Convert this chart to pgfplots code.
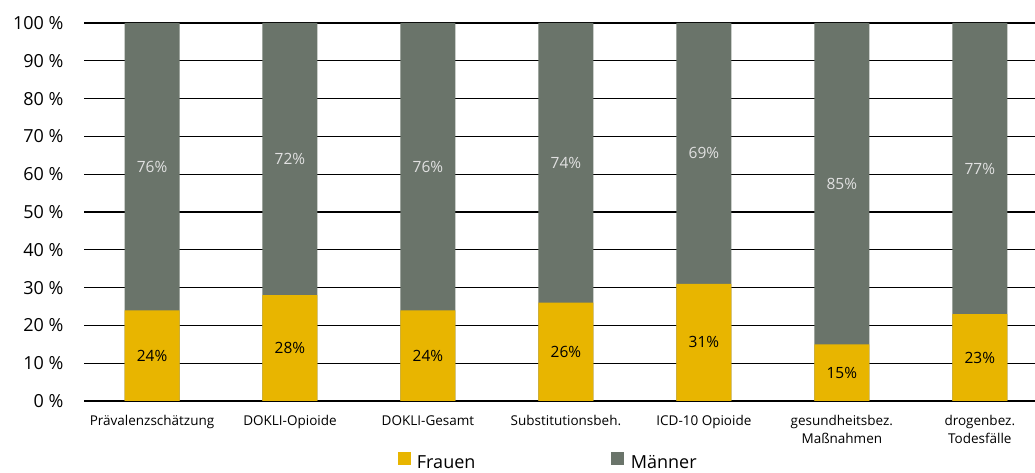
\documentclass[border=0pt]{standalone}
\usepackage{fontspec}
\setmainfont{Open Sans}
\usepackage{pgfplots}
\pgfplotsset{compat=1.18}
\definecolor{frauen}{RGB}{232,181,0}
\definecolor{maenner}{RGB}{106,116,106}
\definecolor{mlabel}{RGB}{225,225,225}
\begin{document}
\begin{tikzpicture}[x=1pt,y=1pt]
\path[use as bounding box] (0,0) rectangle (1035,473);
\begin{axis}[
  at={(84pt,72pt)}, anchor=south west,
  scale only axis, width=951pt, height=378pt,
  xmin=-0.493, xmax=6.4, ymin=0, ymax=100,
  clip=false,
  xtick={0,...,6},
  xticklabels={Prävalenzschätzung, DOKLI-Opioide, DOKLI-Gesamt, Substitutionsbeh., ICD-10 Opioide, {gesundheitsbez.\\Maßnahmen}, {drogenbez.\\Todesfälle}},
  xticklabel style={align=center, font=\fontsize{13.5}{18}\selectfont, yshift=-11pt},
  ytick={0,10,...,100},
  yticklabels={0 \%,10 \%,20 \%,30 \%,40 \%,50 \%,60 \%,70 \%,80 \%,90 \%,100 \%},
  yticklabel style={font=\fontsize{18}{20}\selectfont, xshift=-17pt},
  ymajorgrids, major grid style={black, line width=1.3pt},
  axis line style={draw=none}, major tick length=0pt,
  legend style={at={(0.488,-0.162)}, anchor=center, draw=none, fill=none,
    legend columns=2, font=\fontsize{18}{20}\selectfont,
    /tikz/every even column/.append style={column sep=134pt}},
  legend cell align=left,
]
\addlegendimage{legend image code/.code={\fill[frauen] (0pt,-1pt) rectangle (12pt,11pt); \path (17pt,0pt);}}
\addlegendentry{Frauen}
\addlegendimage{legend image code/.code={\fill[maenner] (0pt,-1pt) rectangle (12pt,11pt); \path (17pt,0pt);}}
\addlegendentry{Männer}
% Männer (stacked top = Frauen + Männer)
\addplot[ybar, bar width=55pt, bar shift=0pt, fill=maenner, draw=none, forget plot]
  coordinates {(0,100) (1,100) (2,100) (3,100) (4,100) (5,100) (6,100)};
% Frauen
\addplot[ybar, bar width=55pt, bar shift=0pt, fill=frauen, draw=none, forget plot]
  coordinates {(0,24) (1,28) (2,24) (3,26) (4,31) (5,15) (6,23)};
% labels Frauen
\addplot[draw=none, mark=none, forget plot, nodes near coords, point meta=explicit symbolic,
  every node near coord/.style={anchor=center, text=black, font=\fontsize{15.5}{16}\selectfont}]
  coordinates {(0,12)[24\%] (1,14)[28\%] (2,12)[24\%] (3,13)[26\%] (4,15.5)[31\%] (5,7.5)[15\%] (6,11.5)[23\%]};
% labels Männer
\addplot[draw=none, mark=none, forget plot, nodes near coords, point meta=explicit symbolic,
  every node near coord/.style={anchor=center, text=mlabel, font=\fontsize{15.5}{16}\selectfont}]
  coordinates {(0,62)[76\%] (1,64)[72\%] (2,62)[76\%] (3,63)[74\%] (4,65.5)[69\%] (5,57.5)[85\%] (6,61.5)[77\%]};
\end{axis}
\end{tikzpicture}
\end{document}
